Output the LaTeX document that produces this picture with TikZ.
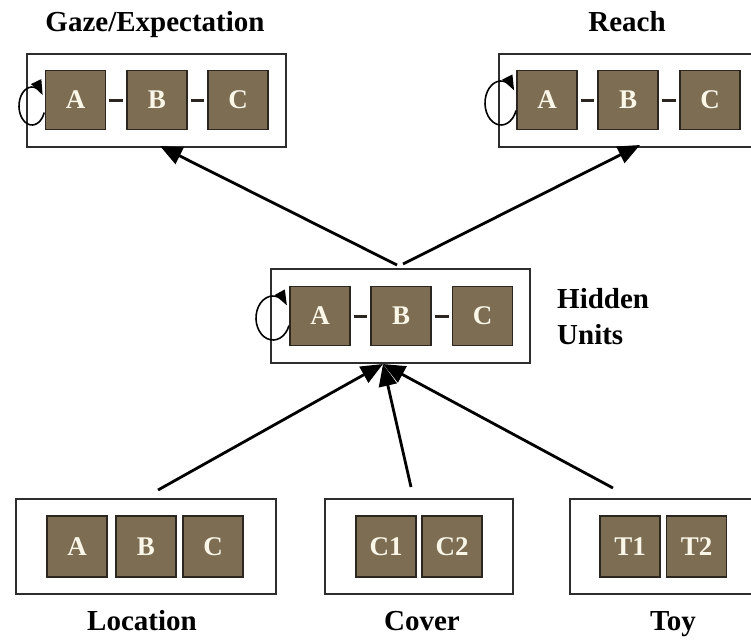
\documentclass[tikz,border=0pt]{standalone}
\usepackage{fontspec}
\setmainfont{Liberation Serif}
\usetikzlibrary{arrows.meta}
\definecolor{unitfill}{RGB}{124,109,83}
\definecolor{unitedge}{RGB}{43,38,32}
\definecolor{unittext}{RGB}{250,246,232}
\definecolor{frame}{RGB}{45,45,45}
\tikzset{
  unit/.style={rectangle, fill=unitfill, draw=unitedge, line width=1.8pt,
    minimum width=60pt, minimum height=59pt, inner sep=0pt,
    text=unittext, font=\fontsize{27}{27}\selectfont\bfseries},
  group/.style={rectangle, draw=frame, line width=1.8pt, inner sep=0pt},
  title/.style={font=\fontsize{29}{32}\selectfont\bfseries, text=black, inner sep=0pt, anchor=base},
  link/.style={line width=3pt, draw=unitedge, shorten <=3pt, shorten >=3pt},
  loopline/.style={line width=1.6pt, draw=black, -{Triangle[length=15pt,width=11pt]}},
  flow/.style={line width=2.8pt, draw=black, -{Triangle[length=22pt,width=18pt]}}
}
\begin{document}
\begin{tikzpicture}[x=1pt, y=-1pt]
\useasboundingbox (0,0) rectangle (751,641);
\begin{scope}
\clip (0,0) rectangle (751,641);

% ---------- group frames ----------
\node[group, minimum width=259pt, minimum height=93pt] (gaze) at (156.5,100.5) {};
\node[group, minimum width=262pt, minimum height=93pt] (reach) at (630,100.5) {};
\node[group, minimum width=259pt, minimum height=94pt] (hid) at (400.5,316) {};
\node[group, minimum width=260pt, minimum height=95pt] (loc) at (146,546.5) {};
\node[group, minimum width=188pt, minimum height=95pt] (cov) at (419,546.5) {};
\node[group, minimum width=190pt, minimum height=95pt] (toy) at (665,546.5) {};

% ---------- Gaze/Expectation units ----------
\node[unit] (gA) at (75.5,100) {A};
\node[unit] (gB) at (157,100) {B};
\node[unit] (gC) at (238,100) {C};
\draw[link] (gA) -- (gB);
\draw[link] (gB) -- (gC);

% ---------- Reach units ----------
\node[unit] (rA) at (547,100) {A};
\node[unit] (rB) at (628,100) {B};
\node[unit] (rC) at (710,100) {C};
\draw[link] (rA) -- (rB);
\draw[link] (rB) -- (rC);

% ---------- Hidden units ----------
\node[unit] (hA) at (320,316) {A};
\node[unit] (hB) at (401,316) {B};
\node[unit] (hC) at (482.5,316) {C};
\draw[link] (hA) -- (hB);
\draw[link] (hB) -- (hC);

% ---------- input units ----------
\node[unit, minimum height=61pt] (lA) at (77,546.5) {A};
\node[unit, minimum height=61pt] (lB) at (146,546.5) {B};
\node[unit, minimum height=61pt] (lC) at (213,546.5) {C};
\node[unit, minimum height=61pt] (c1) at (386,546.5) {C1};
\node[unit, minimum height=61pt] (c2) at (452,546.5) {C2};
\node[unit, minimum height=61pt] (t1) at (630,546.5) {T1};
\node[unit, minimum height=61pt] (t2) at (696.5,546.5) {T2};

% ---------- recurrent self loops (radii in canvas units, y up) ----------
\draw[loopline] (32,106) ++(-20:13pt and 19pt) arc[start angle=-20, end angle=-325, x radius=13pt, y radius=19pt];
\draw[loopline] (501,103) ++(-20:16pt and 22pt) arc[start angle=-20, end angle=-325, x radius=16pt, y radius=22pt];
\draw[loopline] (273,318) ++(-20:17pt and 22pt) arc[start angle=-20, end angle=-325, x radius=17pt, y radius=22pt];

% ---------- labels ----------
\node[title] (tGaze) at (155,31) {Gaze/Expectation};
\node[title] (tReach) at (627,31) {Reach};
\node[title, anchor=base west] (tHid1) at (557,308) {Hidden};
\node[title, anchor=base west] (tHid2) at (557,344) {Units};
\node[title] (tLoc) at (142,630) {Location};
\node[title] (tCov) at (422,630) {Cover};
\node[title] (tToy) at (673,630) {Toy};

% ---------- connector ends ----------
\coordinate (hidOutL) at (397,265);
\coordinate (hidOutR) at (403,264);
\coordinate (gazeIn) at (160,146);
\coordinate (reachIn) at (640,145);
\coordinate (hidIn) at (383,364);
\coordinate (locOut) at (158,490);
\coordinate (covOut) at (411,487);
\coordinate (toyOut) at (613,488);

% ---------- feed-forward connections ----------
\draw[flow] (hidOutL) -- (gazeIn);
\draw[flow] (hidOutR) -- (reachIn);
\draw[flow] (locOut) -- (hidIn);
\draw[flow] (covOut) -- (hidIn);
\draw[flow] (toyOut) -- (hidIn);
\end{scope}
\end{tikzpicture}
\end{document}
